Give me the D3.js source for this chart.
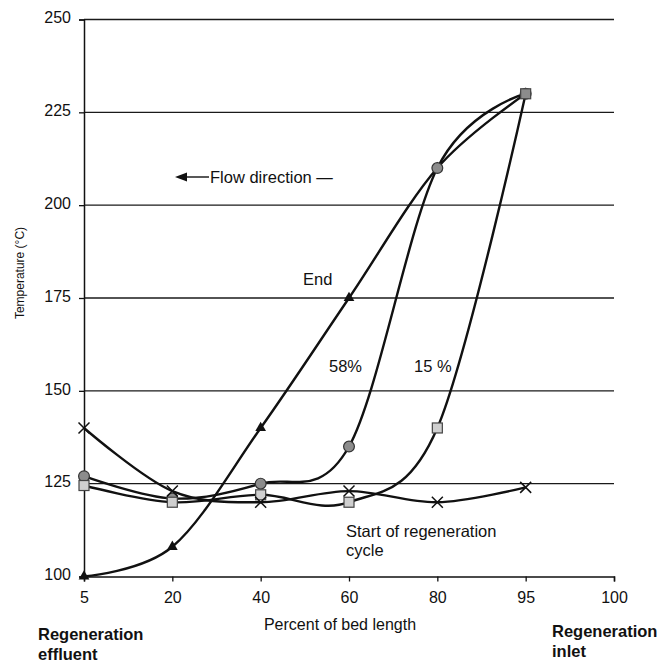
<!DOCTYPE html>
<html>
<head>
<meta charset="utf-8">
<script src="https://cdn.jsdelivr.net/npm/d3@7"></script>
<style>
  body { margin: 0; background: #fff; }
  text { font-family: "Liberation Sans", Arial, sans-serif; fill: #111; }
</style>
</head>
<body>
<script>
// Chart data
var categories = ["5", "20", "40", "60", "80", "95", "100"];
var endValues = [100, 108, 140, 175, 210, 230];
var pct58Values = [127, 121, 125, 135, 210, 230];
var pct15Values = [124.5, 120, 122, 120, 140, 230];
var startValues = [140, 123, 120, 123, 120, 124];
var yTicks = [100, 125, 150, 175, 200, 225, 250];

var width = 662,
    height = 672;

var svg = d3.select("body")
    .append("svg")
    .attr("width", width)
    .attr("height", height);

var x = d3.scalePoint()
    .domain(categories)
    .range([84, 614]);

var y = d3.scaleLinear()
    .domain([100, 250])
    .range([576.5, 19.5]);

// horizontal gridlines
svg.selectAll(".grid")
    .data(yTicks.slice(1))
    .enter()
    .append("line")
    .attr("class", "grid")
    .attr("x1", x("5"))
    .attr("x2", x("100"))
    .attr("y1", function(d) { return y(d); })
    .attr("y2", function(d) { return y(d); })
    .attr("stroke", "#1a1a1a")
    .attr("stroke-width", 1.3);

// axes
var yAxis = d3.axisLeft(y)
    .tickValues(yTicks)
    .tickSize(5)
    .tickPadding(8);

var xAxis = d3.axisBottom(x)
    .tickSize(5)
    .tickPadding(10);

var gy = svg.append("g")
    .attr("transform", "translate(" + x("5") + ",0)")
    .call(yAxis);

var gx = svg.append("g")
    .attr("transform", "translate(0," + y(100) + ")")
    .call(xAxis);

[gx, gy].forEach(function(g) {
  g.select(".domain").attr("stroke", "#111").attr("stroke-width", 1.5);
  g.selectAll(".tick line").attr("stroke", "#111").attr("stroke-width", 1.3);
  g.selectAll(".tick text")
      .style("font-family", "Liberation Sans, Arial, sans-serif")
      .style("font-size", "16px")
      .attr("fill", "#111");
});
gy.selectAll(".tick text").attr("dy", "0.2em");

// series lines (smoothed like the original)
var line = d3.line()
    .x(function(d, i) { return x(categories[i]); })
    .y(function(d) { return y(d); })
    .curve(d3.curveCatmullRom.alpha(0));

var series = [endValues, pct58Values, pct15Values, startValues];
svg.selectAll(".series")
    .data(series)
    .enter()
    .append("path")
    .attr("class", "series")
    .attr("d", line)
    .attr("fill", "none")
    .attr("stroke", "#111")
    .attr("stroke-width", 2.4);

// markers: End (triangles)
svg.selectAll(".tri")
    .data(endValues)
    .enter()
    .append("path")
    .attr("class", "tri")
    .attr("transform", function(d, i) { return "translate(" + x(categories[i]) + "," + y(d) + ")"; })
    .attr("d", d3.symbol().type(d3.symbolTriangle).size(50))
    .attr("fill", "#111");

// 58% (circles)
svg.selectAll(".circ")
    .data(pct58Values)
    .enter()
    .append("circle")
    .attr("class", "circ")
    .attr("cx", function(d, i) { return x(categories[i]); })
    .attr("cy", function(d) { return y(d); })
    .attr("r", 5.4)
    .attr("fill", "#8c8c8c")
    .attr("stroke", "#333")
    .attr("stroke-width", 1.2);

// 15% (squares)
svg.selectAll(".sq")
    .data(pct15Values)
    .enter()
    .append("rect")
    .attr("class", "sq")
    .attr("x", function(d, i) { return x(categories[i]) - 5; })
    .attr("y", function(d) { return y(d) - 5; })
    .attr("width", 10)
    .attr("height", 10)
    .attr("fill", function(d, i) { return i === 5 ? "#8c8c8c" : "#cfcfcf"; })
    .attr("stroke", "#444")
    .attr("stroke-width", 1.2);

// Start (x marks)
svg.selectAll(".xm")
    .data(startValues)
    .enter()
    .append("path")
    .attr("class", "xm")
    .attr("transform", function(d, i) { return "translate(" + x(categories[i]) + "," + y(d) + ")"; })
    .attr("d", "M-5.5,-5.5L5.5,5.5M-5.5,5.5L5.5,-5.5")
    .attr("stroke", "#111")
    .attr("stroke-width", 1.5)
    .attr("fill", "none");

// flow direction arrow
svg.append("line")
    .attr("x1", 184).attr("x2", 209)
    .attr("y1", 177).attr("y2", 177)
    .attr("stroke", "#111")
    .attr("stroke-width", 1.4);
svg.append("path")
    .attr("d", "M175,177L187,172.5L187,181.5Z")
    .attr("fill", "#111");

// annotations
var notes = [
  { t: "Flow direction \u2014", x: 210, y: 183 },
  { t: "End", x: 303, y: 285 },
  { t: "58%", x: 329, y: 372 },
  { t: "15 %", x: 414, y: 372 },
  { t: "Start of regeneration", x: 346, y: 537 },
  { t: "cycle", x: 346, y: 556 }
];
svg.selectAll(".note")
    .data(notes)
    .enter()
    .append("text")
    .attr("class", "note")
    .attr("x", function(d) { return d.x; })
    .attr("y", function(d) { return d.y; })
    .style("font-size", "16.5px")
    .text(function(d) { return d.t; });

// axis titles
svg.append("text")
    .attr("x", 340)
    .attr("y", 630)
    .attr("text-anchor", "middle")
    .style("font-size", "16px")
    .text("Percent of bed length");

svg.append("text")
    .attr("transform", "translate(24,273) rotate(-90)")
    .attr("text-anchor", "middle")
    .style("font-size", "12px")
    .text("Temperature (\u00B0C)");

// end labels
var ends = [
  { t: "Regeneration", x: 38, y: 640 },
  { t: "effluent", x: 38, y: 660 },
  { t: "Regeneration", x: 552, y: 637 },
  { t: "inlet", x: 552, y: 657 }
];
svg.selectAll(".endlab")
    .data(ends)
    .enter()
    .append("text")
    .attr("class", "endlab")
    .attr("x", function(d) { return d.x; })
    .attr("y", function(d) { return d.y; })
    .style("font-size", "16.5px")
    .style("font-weight", "bold")
    .text(function(d) { return d.t; });
</script>
</body>
</html>
